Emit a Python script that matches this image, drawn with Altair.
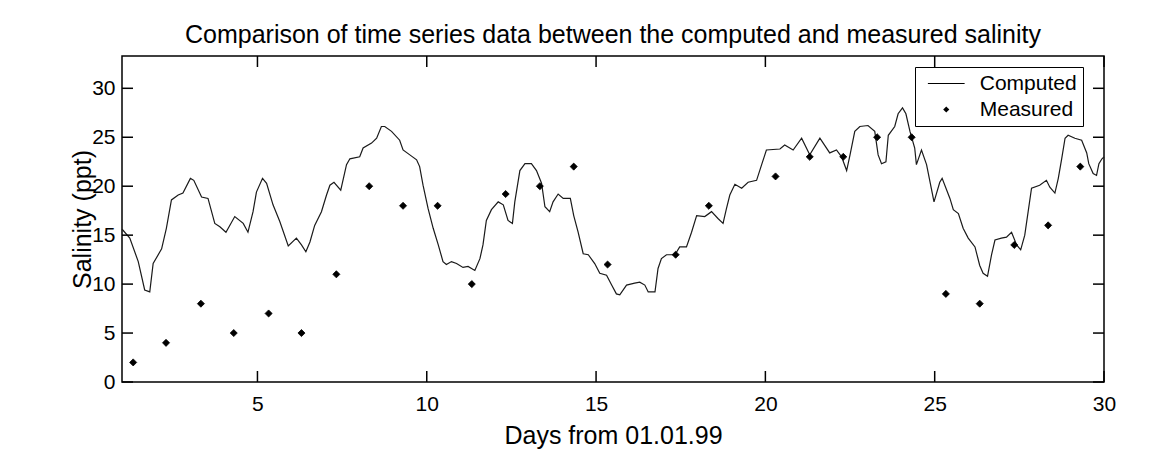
import altair as alt
import pandas as pd

# ---------------- data ----------------
comp_day = [1.00, 1.03, 1.23, 1.48, 1.67, 1.82, 1.92, 2.17, 2.31, 2.46, 2.66, 2.80, 3.02, 3.12, 3.35,
            3.54, 3.74, 3.89, 4.07, 4.33, 4.58, 4.72, 4.87, 4.97, 5.15, 5.27, 5.46, 5.66, 5.91,
            6.15, 6.30, 6.43, 6.55, 6.69, 6.89, 7.04, 7.14, 7.26, 7.46, 7.63, 7.73, 8.02, 8.12,
            8.37, 8.52, 8.66, 8.76, 8.96, 9.20, 9.30, 9.50, 9.70, 9.79, 9.89, 10.04, 10.19,
            10.34, 10.48, 10.58, 10.73, 10.88, 11.07, 11.22, 11.42, 11.57, 11.66, 11.76, 11.91,
            12.11, 12.26, 12.40, 12.53, 12.60, 12.75, 12.90, 13.09, 13.24, 13.39, 13.49, 13.63,
            13.73, 13.88, 14.03, 14.24, 14.34, 14.47, 14.62, 14.77, 14.96, 15.11, 15.31, 15.46,
            15.60, 15.70, 15.90, 16.14, 16.29, 16.44, 16.54, 16.74, 16.83, 16.93, 17.08, 17.33,
            17.47, 17.67, 17.82, 17.97, 18.21, 18.41, 18.60, 18.75, 18.85, 18.95, 19.10, 19.30,
            19.49, 19.74, 19.89, 20.03, 20.43, 20.57, 20.82, 21.07, 21.31, 21.61, 21.90, 22.10,
            22.25, 22.40, 22.50, 22.64, 22.79, 23.03, 23.23, 23.33, 23.43, 23.56, 23.63, 23.82,
            23.92, 24.05, 24.15, 24.27, 24.41, 24.46, 24.61, 24.76, 24.98, 25.15, 25.22, 25.45,
            25.55, 25.70, 25.84, 25.99, 26.19, 26.33, 26.43, 26.56, 26.68, 26.78, 26.97, 27.12,
            27.27, 27.42, 27.54, 27.66, 27.76, 27.86, 28.10, 28.30, 28.40, 28.55, 28.65, 28.75,
            28.85, 28.94, 29.14, 29.34, 29.49, 29.55, 29.68, 29.78, 29.85, 29.94, 30.00]
comp_sal = [15.6, 15.5, 14.7, 12.3, 9.4, 9.2, 12.1, 13.6, 15.7, 18.6, 19.1, 19.3, 20.8, 20.6, 18.9,
            18.75, 16.2, 15.85, 15.3, 16.9, 16.2, 15.3, 17.4, 19.4, 20.8, 20.3, 18.1, 16.4, 13.9,
            14.7, 14.0, 13.3, 14.3, 16.0, 17.4, 19.1, 20.1, 20.4, 19.6, 22.2, 22.8, 23.0, 23.9,
            24.4, 24.9, 26.1, 26.1, 25.6, 24.7, 23.7, 23.2, 22.7, 22.0, 20.1, 17.7, 15.7,
            14.0, 12.3, 12.0, 12.3, 12.1, 11.7, 11.8, 11.4, 12.6, 14.0, 16.5, 17.6,
            18.4, 18.1, 16.5, 16.2, 18.4, 21.6, 22.3, 22.3, 21.6, 20.3, 17.9, 17.4,
            18.4, 19.2, 18.75, 18.75, 17.0, 15.3, 13.1, 13.0, 12.1, 11.1, 10.9, 9.9,
            9.0, 8.9, 9.9, 10.1, 10.2, 9.9, 9.2, 9.2, 11.6, 12.6, 13.0, 13.0,
            13.8, 13.8, 15.3, 17.0, 16.9, 17.4, 16.7, 16.2, 17.7, 19.1, 20.2, 19.8,
            20.4, 20.6, 22.2, 23.7, 23.8, 24.2, 23.7, 24.9, 23.2, 24.9, 23.4, 23.7,
            23.0, 21.6, 23.2, 25.6, 26.1, 26.2, 25.6, 23.2, 22.3, 22.5, 25.2, 26.1,
            27.4, 28.0, 27.4, 25.6, 23.9, 22.2, 23.7, 22.2, 18.4, 20.4, 20.8, 18.75,
            17.6, 17.2, 15.7, 14.7, 13.8, 11.9, 11.1, 10.8, 13.0, 14.5, 14.7, 14.8,
            15.3, 14.0, 13.5, 15.0, 17.4, 19.8, 20.1, 20.6, 19.9, 19.3, 20.8, 22.8,
            24.9, 25.2, 24.9, 24.7, 23.4, 22.3, 21.3, 21.1, 22.3, 22.8, 23.0]

meas_day = [1.33, 2.30, 3.33, 4.30, 5.33, 6.30, 7.33, 8.30, 9.30, 10.32, 11.33, 12.33, 13.34,
            14.34, 15.34, 17.35, 18.33, 20.30, 21.31, 22.30, 23.30, 24.32, 25.33, 26.33,
            27.35, 28.35, 29.30]
meas_sal = [2, 4, 8, 5, 7, 5, 11, 20, 18, 18, 10, 19.2, 20, 22, 12, 13, 18, 21, 23, 23, 25, 25,
            9, 8, 14, 16, 22]

series_names = ["Computed", "Measured"]
x_ticks = [5, 10, 15, 20, 25, 30]
y_ticks = [0, 5, 10, 15, 20, 25, 30]

# ---------------- tables ----------------
comp_df = pd.DataFrame({"day": comp_day, "sal": comp_sal, "series": series_names[0]})
meas_df = pd.DataFrame({"day": meas_day, "sal": meas_sal, "series": series_names[1]})
xt_df = pd.DataFrame({"day": x_ticks})
yt_df = pd.DataFrame({"sal": y_ticks})

W, H = 982, 326
FONT = "Liberation Sans"
TICK = 11

xscale = alt.Scale(domain=[1, 30], nice=False, zero=False)
yscale = alt.Scale(domain=[0, 33.3], nice=False, zero=False)

x_enc = alt.X("day:Q", scale=xscale,
              axis=alt.Axis(values=x_ticks, title="Days from 01.01.99", ticks=False, domain=False,
                            grid=False, labelPadding=11, labelFontSize=21, labelFont=FONT,
                            labelColor="black", titleFont=FONT, titleFontSize=25,
                            titleFontWeight="normal", titleColor="black",
                            titleBaseline="alphabetic", titleY=61, labelFlush=False))
y_enc = alt.Y("sal:Q", scale=yscale,
              axis=alt.Axis(values=y_ticks, title="Salinity (ppt)", ticks=False, domain=False,
                            grid=False, labelPadding=7, labelFontSize=21, labelFont=FONT,
                            labelColor="black", titleFont=FONT, titleFontSize=25,
                            titleFontWeight="normal", titleColor="black",
                            titleBaseline="alphabetic", titleAlign="center",
                            titleX=-32, titleY=H / 2, labelFlush=False))

# legend glyphs: a thin filled bar for the line, a small diamond for the points
LINE_PATH = "M-3,-0.09L3,-0.09L3,0.09L-3,0.09Z"
DIAMOND_PATH = "M0,-0.5L0.5,0L0,0.5L-0.5,0Z"

line = alt.Chart(comp_df).mark_line(color="#1a1a1a", strokeWidth=1.2).encode(x=x_enc, y=y_enc)

points = alt.Chart(meas_df).mark_point(
    filled=True, fill="black", stroke="black", strokeWidth=0.8, opacity=1, size=200
).encode(
    x="day:Q", y="sal:Q",
    shape=alt.Shape("series:N",
                    scale=alt.Scale(domain=series_names, range=[LINE_PATH, DIAMOND_PATH]),
                    legend=alt.Legend(title=None, orient="none", legendX=793, legendY=11,
                                      fillColor="white", strokeColor="black", padding=6,
                                      labelFont=FONT, labelFontSize=21, labelColor="black",
                                      symbolSize=150, symbolStrokeWidth=0,
                                      symbolFillColor="black", symbolOpacity=1,
                                      symbolOffset=14.75, labelOffset=23, rowPadding=4)),
)

# inward ticks on all four sides
bottom_ticks = alt.Chart(xt_df).mark_rule(color="black", strokeWidth=1.5).encode(
    x="day:Q", y=alt.value(H), y2=alt.value(H - TICK))
top_ticks = alt.Chart(xt_df).mark_rule(color="black", strokeWidth=1.5).encode(
    x="day:Q", y=alt.value(0), y2=alt.value(TICK))
left_ticks = alt.Chart(yt_df).mark_rule(color="black", strokeWidth=1.5).encode(
    y="sal:Q", x=alt.value(0), x2=alt.value(TICK))
right_ticks = alt.Chart(yt_df).mark_rule(color="black", strokeWidth=1.5).encode(
    y="sal:Q", x=alt.value(W), x2=alt.value(W - TICK))

chart = alt.layer(line, points, bottom_ticks, top_ticks, left_ticks, right_ticks).properties(
    width=W, height=H,
    title=alt.TitleParams("Comparison of time series data between the computed and measured salinity",
                          font=FONT, fontSize=25, fontWeight="normal", color="black",
                          baseline="alphabetic", offset=12, dy=25, anchor="middle", frame="group"),
    autosize=alt.AutoSizeParams(type="none"),
    padding={"left": 114, "top": 48, "right": 40, "bottom": 80},
    background="white",
).configure_view(stroke="black", strokeWidth=1.5)

chart.save("out.html", embed_options={"renderer": "svg", "actions": False})
